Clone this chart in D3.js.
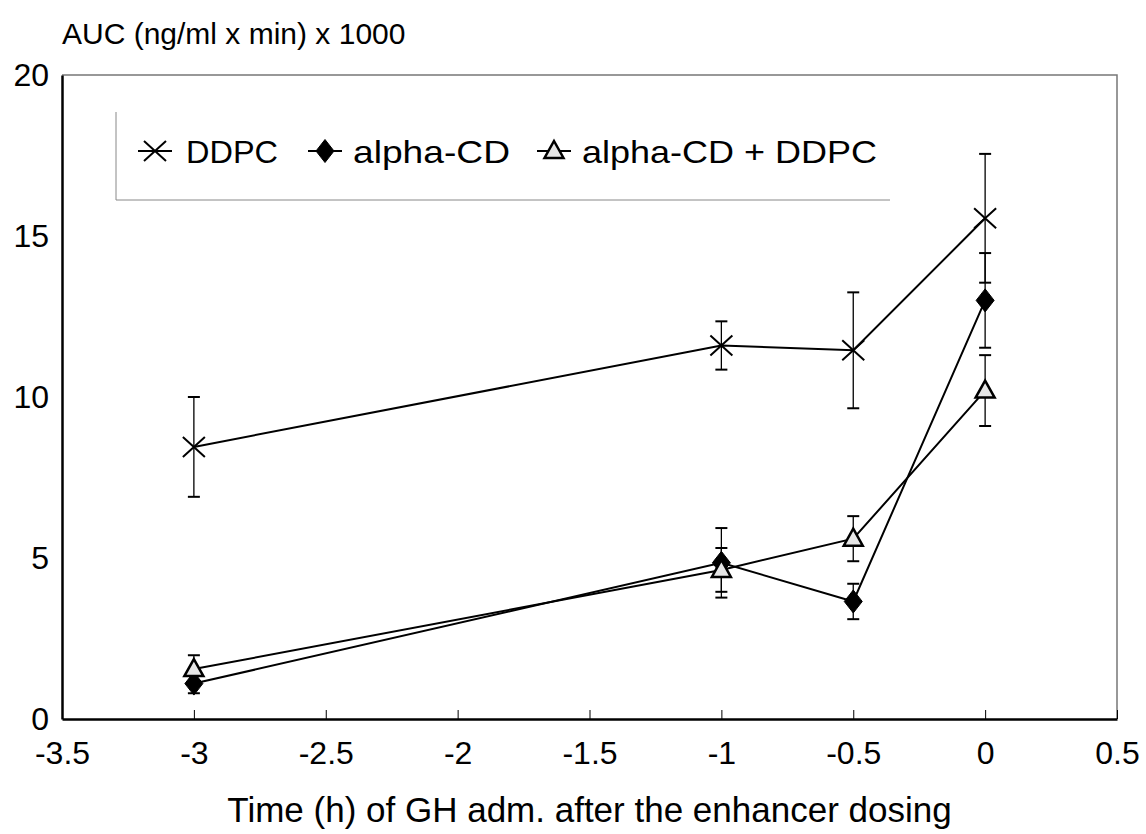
<!DOCTYPE html>
<html>
<head>
<meta charset="utf-8">
<script src="https://cdn.jsdelivr.net/npm/d3@7"></script>
<style>
  body { margin: 0; background: #fff; }
  svg { font-family: "Liberation Sans", Arial, sans-serif; }
</style>
</head>
<body>
<svg id="chart" width="1146" height="834"></svg>
<script>
// data
const times = [-3, -1, -0.5, 0];
const ddpc = [8.45, 11.6, 11.45, 15.55];
const ddpcErr = [1.55, 0.75, 1.8, 2.0];
const alphaCD = [1.1, 4.85, 3.65, 13.0];
const alphaCDErr = [0.3, 1.08, 0.55, 1.47];
const combo = [1.55, 4.63, 5.6, 10.2];
const comboErr = [0.43, 0.68, 0.7, 1.1];
const xTicks = [-3.5, -3, -2.5, -2, -1.5, -1, -0.5, 0, 0.5];
const yTicks = [0, 5, 10, 15, 20];

const margin = { top: 75, right: 29, bottom: 115, left: 62 },
    width = 1146 - margin.left - margin.right,
    height = 834 - margin.top - margin.bottom;

const svg = d3.select("#chart");
const g = svg.append("g")
    .attr("transform", `translate(${margin.left},${margin.top})`);

const x = d3.scaleLinear().domain([-3.5, 0.5]).range([0, width]);
const y = d3.scaleLinear().domain([0, 20]).range([height, 0]);

// frame: top and right faint
g.append("path")
    .attr("d", `M0,0H${width}V${height}`)
    .attr("fill", "none")
    .attr("stroke", "#777")
    .attr("stroke-width", 1.5);

// axes
const xAxis = g.append("g")
    .attr("transform", `translate(0,${height})`)
    .call(d3.axisBottom(x).tickValues(xTicks).tickSizeInner(-9).tickSizeOuter(0)
        .tickPadding(22).tickFormat(d => d));
xAxis.select(".domain").attr("stroke-width", 2.5);
xAxis.selectAll(".tick line").attr("stroke-width", 1);

const yAxis = g.append("g")
    .call(d3.axisLeft(y).tickValues(yTicks).tickSize(0).tickPadding(13));
yAxis.select(".domain").attr("stroke-width", 2.5);

g.selectAll(".tick text")
    .attr("font-size", 32)
    .attr("font-family", "Liberation Sans, Arial, sans-serif")
    .attr("fill", "#000");

// axis titles
svg.append("text")
    .attr("x", 62)
    .attr("y", 44)
    .attr("font-size", 30)
    .text("AUC (ng/ml x min) x 1000");

svg.append("text")
    .attr("x", margin.left + width / 2 + 0)
    .attr("y", 822)
    .attr("text-anchor", "middle")
    .attr("font-size", 35)
    .text("Time (h) of GH adm. after the enhancer dosing");

// series
const series = [
    { name: "DDPC", vals: ddpc, err: ddpcErr, shape: "x" },
    { name: "alpha-CD", vals: alphaCD, err: alphaCDErr, shape: "diamond" },
    { name: "alpha-CD + DDPC", vals: combo, err: comboErr, shape: "triangle" }
];

const line = d3.line()
    .x(d => x(d.t))
    .y(d => y(d.v));

function drawMarker(sel, shape) {
    if (shape === "x") {
        sel.append("path")
            .attr("d", "M-11,-10L11,10M-11,10L11,-10")
            .attr("stroke", "#000").attr("stroke-width", 2).attr("fill", "none");
    } else if (shape === "diamond") {
        sel.append("path")
            .attr("d", "M0,-11.5L9,0L0,11.5L-9,0Z")
            .attr("fill", "#000").attr("stroke", "#000").attr("stroke-width", 1);
    } else {
        sel.append("path")
            .attr("d", "M0,-10L9.5,7L-9.5,7Z")
            .attr("fill", "#e6e6e6").attr("stroke", "#000").attr("stroke-width", 2.5)
            .attr("stroke-linejoin", "miter");
    }
}

series.forEach(s => {
    const pts = times.map((t, i) => ({ t, v: s.vals[i], e: s.err[i] }));

    // error bars
    const eb = g.append("g");
    pts.forEach(p => {
        eb.append("line")
            .attr("x1", x(p.t)).attr("x2", x(p.t))
            .attr("y1", y(p.v + p.e)).attr("y2", y(p.v - p.e))
            .attr("stroke", "#000").attr("stroke-width", 1.3);
        [p.v + p.e, p.v - p.e].forEach(v => {
            eb.append("line")
                .attr("x1", x(p.t) - 6).attr("x2", x(p.t) + 6)
                .attr("y1", y(v)).attr("y2", y(v))
                .attr("stroke", "#000").attr("stroke-width", 2);
        });
    });

    g.append("path")
        .datum(pts)
        .attr("d", line)
        .attr("fill", "none")
        .attr("stroke", "#000")
        .attr("stroke-width", 2);

    s.pts = pts;
});

// markers on top
series.forEach(s => {
    s.pts.forEach(p => {
        const m = g.append("g").attr("transform", `translate(${x(p.t)},${y(p.v)})`);
        drawMarker(m, s.shape);
    });
});

// legend
const legend = svg.append("g");
legend.append("path")
    .attr("d", "M116,112V200H890")
    .attr("fill", "none")
    .attr("stroke", "#888")
    .attr("stroke-width", 1);

const legendX = [155, 325, 554];
const textX = [186, 353, 582];
const textLen = [92, 157, 295];
series.forEach((s, i) => {
    const lg = legend.append("g").attr("transform", `translate(${legendX[i]},151)`);
    lg.append("line").attr("x1", -17).attr("x2", 17)
        .attr("stroke", "#000").attr("stroke-width", 2);
    drawMarker(lg, s.shape);
    legend.append("text")
        .attr("x", textX[i])
        .attr("y", 163)
        .attr("font-size", 32)
        .attr("textLength", textLen[i])
        .attr("lengthAdjust", "spacingAndGlyphs")
        .text(s.name);
});
</script>
</body>
</html>
